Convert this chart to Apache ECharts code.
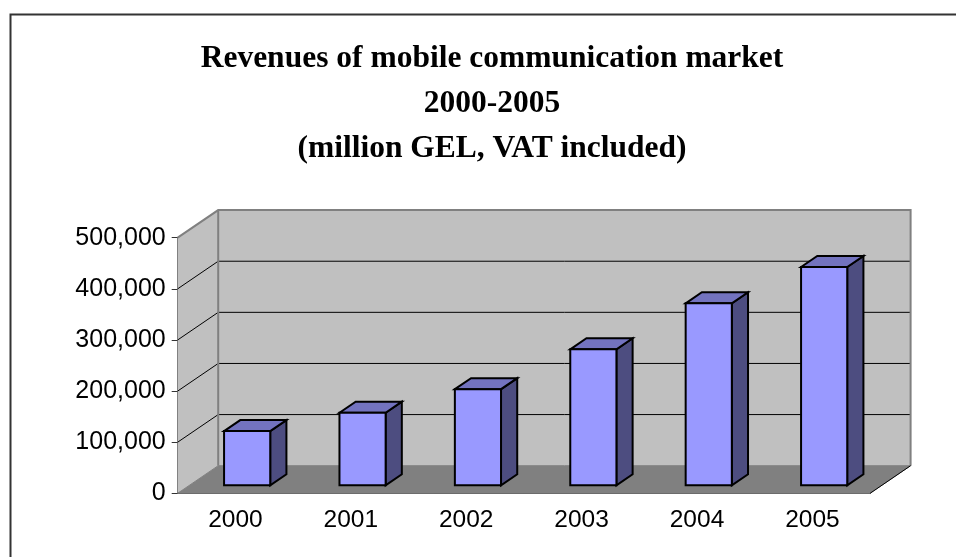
<!DOCTYPE html>
<html><head><meta charset="utf-8">
<script src="https://cdn.jsdelivr.net/npm/echarts@6/dist/echarts.min.js"></script>
<style>html,body{margin:0;padding:0;background:#fff;overflow:hidden}#c{width:956px;height:557px}</style>
</head><body><div id="c"></div>
<script>
const titleLines = ['Revenues of mobile communication market', '2000-2005', '(million GEL, VAT included)'];
const years = ['2000', '2001', '2002', '2003', '2004', '2005'];
const revenues = [106000, 142000, 188000, 266000, 356000, 427000];
const yTicks = [0, 100000, 200000, 300000, 400000, 500000];

const D = [40.5, -27.6];      // oblique depth vector (px)
const BAR_HALF = 0.2;         // half bar width as share of category
const F0 = 0.29, FD = 0.4;    // bar front depth and depth thickness (share of D)

function fmt(v) { return String(v).replace(/\B(?=(\d{3})+(?!\d))/g, ','); }

function renderWalls(params, api) {
  const w = api.size([1, 0])[0];
  const n = years.length;
  const xL = api.coord([0, 0])[0] - w / 2, xR = api.coord([n - 1, 0])[0] + w / 2;
  const yv = v => api.coord([0, v])[1];
  const yMin = yv(yTicks[0]), yMax = yv(yTicks[yTicks.length - 1]);
  const dx = D[0], dy = D[1];
  const ch = [];
  ch.push({type: 'polygon', shape: {points: [[xL, yMin], [xL, yMax], [xL + dx, yMax + dy], [xL + dx, yMin + dy]]}, style: {fill: '#c0c0c0'}});
  ch.push({type: 'polygon', shape: {points: [[xL + dx, yMin + dy], [xR + dx, yMin + dy], [xR + dx, yMax + dy], [xL + dx, yMax + dy]]}, style: {fill: '#c0c0c0'}});
  ch.push({type: 'polygon', shape: {points: [[xL, yMin], [xR, yMin], [xR + dx, yMin + dy], [xL + dx, yMin + dy]]}, style: {fill: '#808080', stroke: '#808080', lineWidth: 1}});
  yTicks.slice(1, -1).forEach(v => {
    const y = yv(v);
    ch.push({type: 'polyline', shape: {points: [[xL, y], [xL + dx, y + dy], [xR + dx, y + dy]]}, style: {stroke: '#000', lineWidth: 1, fill: null}});
  });
  ch.push({type: 'polyline', shape: {points: [[xL, yMax], [xL + dx, yMax + dy], [xR + dx, yMax + dy], [xR + dx, yMin + dy]]}, style: {stroke: '#808080', lineWidth: 2, fill: null}});
  ch.push({type: 'line', shape: {x1: xL + dx, y1: yMax + dy, x2: xL + dx, y2: yMin + dy}, style: {stroke: '#808080', lineWidth: 2}});
  ch.push({type: 'line', shape: {x1: xR, y1: yMin, x2: xR + dx, y2: yMin + dy}, style: {stroke: '#000', lineWidth: 1}});
  return {type: 'group', children: ch};
}

function renderBar(params, api) {
  const idx = api.value(0), val = api.value(1);
  const w = api.size([1, 0])[0];
  const top = api.coord([idx, val]), base = api.coord([idx, 0]);
  const ox = D[0] * F0, oy = D[1] * F0;
  const bx = D[0] * FD, by = D[1] * FD;
  const x1 = top[0] - w * BAR_HALF + ox, x2 = top[0] + w * BAR_HALF + ox;
  const yT = top[1] + oy, yB = base[1] + oy;
  const st = {stroke: '#000', lineWidth: 2, lineJoin: 'miter'};
  return {type: 'group', children: [
    {type: 'polygon', shape: {points: [[x2, yT], [x2 + bx, yT + by], [x2 + bx, yB + by], [x2, yB]]}, style: Object.assign({fill: '#4d4d80'}, st)},
    {type: 'polygon', shape: {points: [[x1, yT], [x1 + bx, yT + by], [x2 + bx, yT + by], [x2, yT]]}, style: Object.assign({fill: '#7373bf'}, st)},
    {type: 'rect', shape: {x: x1, y: yT, width: x2 - x1, height: yB - yT}, style: Object.assign({fill: '#9999ff'}, st)}
  ]};
}

const chart = echarts.init(document.getElementById('c'), null, {renderer: 'canvas'});
chart.setOption({
  animation: false,
  backgroundColor: '#fff',
  title: {
    text: titleLines.join('\n'),
    left: 487, top: 31.8, textAlign: 'center',
    textStyle: {fontFamily: 'Liberation Serif', fontWeight: 'bold', fontSize: 31.5, lineHeight: 44.7, color: '#000'}
  },
  graphic: [{type: 'rect', left: 8, top: 12, shape: {x: 0, y: 0, width: 1000, height: 600}, style: {fill: null, stroke: '#333', lineWidth: 2}, silent: true, z: 100}],
  grid: {left: 177.7, right: 85.9, top: 237.7, bottom: 63.7},
  xAxis: {
    type: 'category', data: years, boundaryGap: true,
    axisLine: {lineStyle: {color: '#000', width: 1}},
    axisTick: {length: 6, lineStyle: {color: '#000'}, alignWithLabel: false},
    axisLabel: {fontFamily: 'Liberation Sans', fontSize: 24.5, color: '#000', margin: 14.5},
    splitLine: {show: false}
  },
  yAxis: {
    type: 'value', min: yTicks[0], max: yTicks[yTicks.length - 1], interval: yTicks[1] - yTicks[0],
    axisLine: {show: true, lineStyle: {color: '#333', width: 1.5}},
    axisTick: {show: true, length: 6, lineStyle: {color: '#333'}},
    axisLabel: {fontFamily: 'Liberation Sans', fontSize: 25, color: '#000', margin: 12, formatter: fmt},
    splitLine: {show: false}
  },
  series: [
    {type: 'custom', name: 'walls', data: [[0, 0]], renderItem: renderWalls, silent: true, z: 1, clip: false},
    {type: 'custom', name: 'Revenues', data: revenues.map((v, i) => [i, v]), renderItem: renderBar, z: 3, clip: false}
  ]
});
</script></body></html>
